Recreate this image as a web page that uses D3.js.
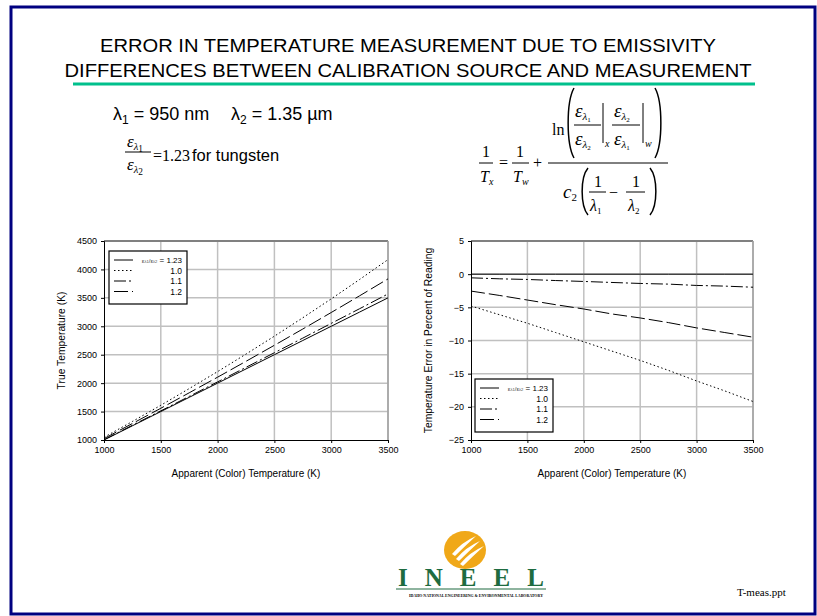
<!DOCTYPE html>
<html><head><meta charset="utf-8">
<script src="https://cdn.jsdelivr.net/npm/d3@7"></script>
<style>body{margin:0;background:#fff}svg{display:block}</style>
</head><body>
<svg id="c" width="817" height="616"></svg>
<script>
// ---------- DATA ----------
const apparentT = [1000,1250,1500,1750,2000,2250,2500,2750,3000,3250,3500];
const seriesNames = ["1.23","1.0","1.1","1.2"];
// True temperature (K)
const trueT_123 = [1000,1250,1500,1750,2000,2250,2500,2750,3000,3250,3500];
const trueT_10  = [1048,1326,1611,1904,2203,2511,2826,3150,3482,3823,4173];
const trueT_11  = [1005,1259,1512,1767,2022,2278,2535,2792,3051,3309,3569];
const trueT_12  = [1025,1290,1558,1830,2105,2384,2666,2952,3242,3536,3834];
// Temperature error (% of reading)
const err_123 = [0,0,0,0,0,0,0,0,0,0,0];
const err_10  = [-4.8,-6.1,-7.4,-8.8,-10.2,-11.6,-13.0,-14.5,-16.1,-17.6,-19.2];
const err_11  = [-0.55,-0.7,-0.8,-0.96,-1.1,-1.25,-1.4,-1.5,-1.7,-1.8,-1.97];
const err_12  = [-2.55,-3.2,-3.9,-4.6,-5.25,-6.0,-6.6,-7.3,-8.1,-8.8,-9.5];
const xTicks = [1000,1500,2000,2500,3000,3500];
const yTicksLeft = [1000,1500,2000,2500,3000,3500,4000,4500];
const yTicksRight = [-25,-20,-15,-10,-5,0,5];
const titleLines = ["ERROR IN TEMPERATURE MEASUREMENT DUE TO EMISSIVITY","DIFFERENCES BETWEEN CALIBRATION SOURCE AND MEASUREMENT"];

const dashes = {"1.23":null,"1.0":"1.5,2.5","1.1":"12,3,2,3","1.2":"14,4"};

const svg = d3.select("#c");
const SANS = "'Liberation Sans', Arial, sans-serif";
const SERIF = "'Liberation Serif', 'Times New Roman', serif";

// frame
svg.append("rect").attr("x",11).attr("y",7).attr("width",804).attr("height",607)
  .attr("fill","#fff").attr("stroke","#000080").attr("stroke-width",3);

// title
titleLines.forEach((t,i)=>{
  svg.append("text").attr("x",408).attr("y",52+i*25).attr("text-anchor","middle")
    .attr("font-family",SANS).attr("font-size",19).attr("fill","#000")
    .attr("textLength", i===0?616:687).attr("lengthAdjust","spacingAndGlyphs").text(t);
});
svg.append("rect").attr("x",73).attr("y",82.5).attr("width",682).attr("height",3).attr("fill","#00c08c");

// lambda line
const lam1 = svg.append("text").attr("x",113).attr("y",120).attr("font-family",SANS).attr("font-size",18);
lam1.append("tspan").text("λ");
lam1.append("tspan").attr("font-size",12).attr("dy",4).text("1");
lam1.append("tspan").attr("dy",-4).text(" = 950 nm");
const lam2 = svg.append("text").attr("x",231).attr("y",120).attr("font-family",SANS).attr("font-size",18);
lam2.append("tspan").text("λ");
lam2.append("tspan").attr("font-size",12).attr("dy",4).text("2");
lam2.append("tspan").attr("dy",-4).text(" = 1.35 µm");

// emissivity ratio fraction
function epsLab(g,x,y,sub,fs){
  const t=g.append("text").attr("x",x).attr("y",y).attr("font-family",SERIF).attr("font-size",fs);
  t.append("tspan").attr("font-style","italic").text("ε");
  t.append("tspan").attr("font-style","italic").attr("font-size",fs*0.62).attr("dy",fs*0.2).text("λ");
  t.append("tspan").attr("font-size",fs*0.55).attr("dy",fs*0.08).text(sub);
  return t;
}
epsLab(svg,127,147,"1",17);
svg.append("line").attr("x1",125).attr("x2",151).attr("y1",152).attr("y2",152).attr("stroke","#000").attr("stroke-width",1);
epsLab(svg,127,170,"2",17);
svg.append("text").attr("x",153).attr("y",161).attr("font-family",SERIF).attr("font-size",16).text("=1.23");
svg.append("text").attr("x",192).attr("y",161).attr("font-family",SANS).attr("font-size",16.5).text("for tungsten");

// big formula
const F = svg.append("g").attr("font-family",SERIF).attr("fill","#000");
function txt(x,y,s,fs,it,anchor){return F.append("text").attr("x",x).attr("y",y).attr("font-size",fs)
  .attr("font-style",it?"italic":"normal").attr("text-anchor",anchor||"start").text(s);}
function bar(x1,x2,y){F.append("line").attr("x1",x1).attr("x2",x2).attr("y1",y).attr("y2",y).attr("stroke","#000").attr("stroke-width",1);}
function paren(x,y1,y2,dir){ // dir 1 = '(' , -1 = ')'
  const w=6*dir;
  F.append("path").attr("d",`M${x+w},${y1} C${x-w*0.3},${y1+(y2-y1)*0.2} ${x-w*0.3},${y1+(y2-y1)*0.8} ${x+w},${y2}`)
    .attr("fill","none").attr("stroke","#000").attr("stroke-width",1.5);
}
txt(486,157,"1",16,false,"middle"); bar(479,493,163);
const tx=txt(480,182,"T",16,true); tx.append("tspan").attr("font-size",10).attr("dy",3).text("x");
txt(499,168,"=",16);
txt(520,157,"1",16,false,"middle"); bar(512,529,163);
const tw=txt(513,182,"T",16,true); tw.append("tspan").attr("font-size",10).attr("dy",3).text("w");
txt(533,168,"+",16);
bar(548,668,163);
txt(552,135,"ln",16);
paren(568,88,158,1); paren(661,88,158,-1);
function eps2(x,y,sub){const t=txt(x,y,"ε",19,true);
  t.append("tspan").attr("font-size",11).attr("dy",3).text("λ");
  t.append("tspan").attr("font-size",7).attr("dy",2).attr("font-style","normal").text(sub);}
eps2(575,117,"1"); bar(574,601,125); eps2(575,145,"2");
F.append("line").attr("x1",603).attr("x2",603).attr("y1",103).attr("y2",143).attr("stroke","#000");
txt(605,147,"x",10,true);
eps2(614,117,"2"); bar(612,640,125); eps2(614,145,"1");
F.append("line").attr("x1",643).attr("x2",643).attr("y1",103).attr("y2",143).attr("stroke","#000");
txt(645,147,"w",10,true);
const c2=txt(563,198,"c",19,true); c2.append("tspan").attr("font-size",11).attr("dy",3).attr("font-style","normal").text("2");
paren(582,168,215,1); paren(656,168,215,-1);
txt(598,187,"1",16,false,"middle"); bar(589,606,192);
const l1=txt(590,211,"λ",16,true); l1.append("tspan").attr("font-size",9).attr("dy",3).attr("font-style","normal").text("1");
txt(609,198,"−",16);
txt(636,187,"1",16,false,"middle"); bar(626,645,192);
const l2=txt(628,211,"λ",16,true); l2.append("tspan").attr("font-size",9).attr("dy",3).attr("font-style","normal").text("2");

// ---------- charts ----------
function chart(opts){
  const {x0,x1,y0,y1,yDomain,yTicks,series,ylabel,legendX,legendY} = opts;
  const g = svg.append("g");
  const x = d3.scaleLinear().domain([1000,3500]).range([x0,x1]);
  const y = d3.scaleLinear().domain(yDomain).range([y1,y0]);
  g.append("g").selectAll("line").data(xTicks.slice(1)).join("line")
    .attr("x1",d=>x(d)).attr("x2",d=>x(d)).attr("y1",y0).attr("y2",y1).attr("stroke","#c0c0c0").attr("stroke-width",1.5);
  g.append("g").selectAll("line").data(yTicks.slice(1)).join("line")
    .attr("x1",x0).attr("x2",x1).attr("y1",d=>y(d)).attr("y2",d=>y(d)).attr("stroke","#c0c0c0").attr("stroke-width",1.5);
  g.append("line").attr("x1",x0).attr("x2",x1).attr("y1",y0).attr("y2",y0).attr("stroke","#808080").attr("stroke-width",2);
  g.append("line").attr("x1",x1).attr("x2",x1).attr("y1",y0).attr("y2",y1).attr("stroke","#a0a0a0").attr("stroke-width",1.5);
  const ax = g.append("g").attr("transform",`translate(0,${y1})`)
    .call(d3.axisBottom(x).tickValues(xTicks).tickSize(3).tickPadding(4).tickFormat(d3.format("d")));
  const ay = g.append("g").attr("transform",`translate(${x0},0)`)
    .call(d3.axisLeft(y).tickValues(yTicks).tickSize(3).tickPadding(4).tickFormat(d3.format("d")));
  [ax,ay].forEach(a=>{a.selectAll("text").attr("font-family",SANS).attr("font-size",9).attr("fill","#000");
    a.selectAll("line,path").attr("stroke","#000");});
  const line = d3.line().x((d,i)=>x(apparentT[i])).y(d=>y(d));
  series.forEach((s,k)=>{
    g.append("path").datum(s).attr("d",line).attr("fill","none").attr("stroke","#000")
      .attr("stroke-width",1).attr("stroke-dasharray",dashes[seriesNames[k]]);
  });
  g.append("text").attr("x",(x0+x1)/2).attr("y",y1+37).attr("text-anchor","middle")
    .attr("font-family",SANS).attr("font-size",10).text("Apparent (Color) Temperature (K)");
  g.append("text").attr("transform",`translate(${x0-39},${(y0+y1)/2}) rotate(-90)`).attr("text-anchor","middle")
    .attr("font-family",SANS).attr("font-size",10.3).text(ylabel);
  const L = g.append("g").attr("transform",`translate(${legendX},${legendY})`);
  L.append("rect").attr("width",78).attr("height",53).attr("fill","#fff").attr("stroke","#000").attr("stroke-width",1.2);
  seriesNames.forEach((n,k)=>{
    const yy = 9+k*10.5;
    L.append("line").attr("x1",5).attr("x2",24).attr("y1",yy).attr("y2",yy).attr("stroke","#000")
      .attr("stroke-dasharray",dashes[n]);
    if(k===0){
      const t=L.append("text").attr("x",73).attr("y",yy+3).attr("text-anchor","end").attr("font-family",SANS).attr("font-size",8);
      t.append("tspan").attr("font-size",6).attr("fill","#444").text("ε");
      t.append("tspan").attr("font-size",4).attr("fill","#444").text("λ1");
      t.append("tspan").attr("font-size",6).attr("fill","#444").text("/ε");
      t.append("tspan").attr("font-size",4).attr("fill","#444").text("λ2");
      t.append("tspan").text(" = "+n);
    } else {
      L.append("text").attr("x",73).attr("y",yy+3).attr("text-anchor","end").attr("font-family",SANS).attr("font-size",8.5).text(n);
    }
  });
}
chart({x0:104,x1:388,y0:241,y1:440,yDomain:[1000,4500],yTicks:yTicksLeft,
  series:[trueT_123,trueT_10,trueT_11,trueT_12],ylabel:"True Temperature (K)",legendX:109,legendY:251});
chart({x0:471,x1:753,y0:241,y1:440,yDomain:[-25,5],yTicks:yTicksRight,
  series:[err_123,err_10,err_11,err_12],ylabel:"Temperature Error in Percent of Reading",legendX:475,legendY:379});

// logo
const lg = svg.append("g");
lg.append("ellipse").attr("cx",465).attr("cy",550).attr("rx",21).attr("ry",19).attr("fill","#f0a818");
[0,1,2].forEach(i=>{
  const ox=i*4, oy=i*5;
  lg.append("path").attr("d",`M${452+ox},${558+oy-4} Q${462+ox},${548+oy-6} ${476+ox},${538+oy-2} Q${465+ox},${550+oy-4} ${455+ox},${560+oy-4}Z`)
    .attr("fill","#fff");
});
lg.append("text").attr("x",398).attr("y",586).attr("font-family",SERIF).attr("font-weight","bold")
  .attr("font-size",25).attr("fill","#1e6b40").attr("textLength",146).attr("lengthAdjust","spacing").text("INEEL");
lg.append("line").attr("x1",396).attr("x2",546).attr("y1",589).attr("y2",589).attr("stroke","#1e6b40").attr("stroke-width",1.2);
lg.append("text").attr("x",409).attr("y",597).attr("font-family",SERIF).attr("font-weight","bold").attr("font-size",4)
  .attr("textLength",134).attr("lengthAdjust","spacingAndGlyphs").text("IDAHO NATIONAL ENGINEERING & ENVIRONMENTAL LABORATORY");
svg.append("text").attr("x",737).attr("y",596).attr("font-family",SERIF).attr("font-size",11).text("T-meas.ppt");
</script>
</body></html>
